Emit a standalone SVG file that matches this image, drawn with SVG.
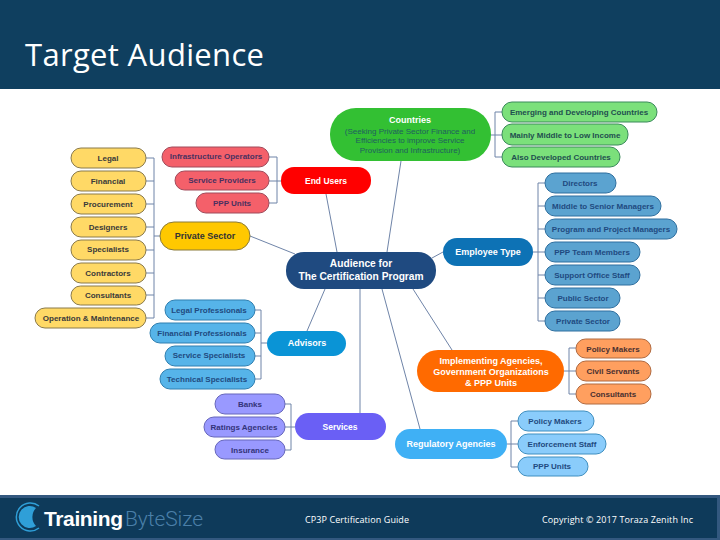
<svg xmlns="http://www.w3.org/2000/svg" width="720" height="540" viewBox="0 0 720 540">
<style>
text{font-family:"Liberation Sans",Arial,sans-serif;text-anchor:middle;font-weight:bold}
.n text{font-size:8px}
.n rect{stroke-width:1}
.y rect{fill:#ffd966;stroke:#8a7a4a}.y text{fill:#3a3a3a}
.r rect{fill:#f4606a;stroke:#a04a5a}.r text{fill:#4a3060}
.g rect{fill:#7be07b;stroke:#3a8a5a}.g text{fill:#1f4f4f}
.b rect{fill:#5ba3d0;stroke:#2f6f9f}.b text{fill:#1f4a80}
.a rect{fill:#56b4e9;stroke:#2f7fb0}.a text{fill:#1f4a80}
.p rect{fill:#9999ff;stroke:#6666bb}.p text{fill:#33337a}
.o rect{fill:#ff9f5f;stroke:#b06a40}.o text{fill:#4a3030}
.l rect{fill:#8accfb;stroke:#3f8fc0}.l text{fill:#1f4a80}
.m text{font-size:9px;fill:#fff}
.c path{fill:none;stroke:#6f84a8;stroke-width:1}
.f{font-family:"Open Sans",sans-serif;font-weight:normal;font-size:9px;fill:#fff}
</style>
<rect width="720" height="540" fill="#fff"/>
<g id="header"><rect width="720" height="89" fill="#0f3f5f"/>
<text x="25" y="66" textLength="239" style="font-family:'Open Sans',sans-serif;font-weight:normal;font-size:31px;text-anchor:start" fill="#fff">Target Audience</text></g>
<g id="footer"><rect y="495" width="720" height="45" fill="#0e3a5a"/><rect y="495" width="720" height="3" fill="#33587f"/><rect y="538" width="720" height="2" fill="#33587f"/><rect x="717" y="495" width="3" height="45" fill="#33587f"/>
<path d="M39 506A14 14 0 1 0 39 528" fill="none" stroke="#2f9fd8" stroke-width="1.500"/>
<path d="M36 508A11 11 0 1 0 36 526A13 13 0 0 1 36 508Z" fill="#2f9fd8"/>
<text x="44" y="526" textLength="79" style="font-size:21px;text-anchor:start" fill="#fff">Training</text>
<text x="125" y="526" textLength="78" style="font-size:21px;font-weight:300;text-anchor:start;font-family:Roboto,sans-serif" fill="#4a7fa8">ByteSize</text>
<text x="357" y="523" textLength="104" class="f">CP3P Certification Guide</text>
<text x="617.500" y="523" textLength="151" class="f">Copyright © 2017 Toraza Zenith Inc</text></g>
<g id="connectors" class="c">
<path d="M326 194L337 252M250 236L295 254M401 161L387 252M443 252L432 258M325 289L307 331M360 289V413M413 289L452 350M382 289L420 429"/>
<path d="M146 158H154M146 181H154M146 204H154M146 227H154M146 250H154M146 273H154M146 295H154M146 318H154M154 158V318M154 236H160"/>
<path d="M269 157H277M269 181H277M269 203H277M277 157V203M277 181H281"/>
<path d="M491 135H502M495 112H502M495 157H502M495 112V157"/>
<path d="M533 252H538M538 183H545M538 206H545M538 229H545M538 252H545M538 275H545M538 298H545M538 321H545M538 183V321"/>
<path d="M255 310H261M255 333H261M255 356H261M255 379H261M261 310V379M261 343H267"/>
<path d="M285 404H291M285 427H295M285 450H291M291 404V450"/>
<path d="M564 371H576M569 348H576M569 394H576M569 348V394"/>
<path d="M507 444H518M511 421H518M511 467H518M511 421V467"/>
</g>
<g id="center" class="n m"><rect x="286" y="252" width="150" height="37" rx="18" fill="#1f4a80"/><text x="361" y="267" style="font-size:10.200px">Audience for</text><text x="361" y="280" style="font-size:10.200px">The Certification Program</text></g>
<g id="countries" class="n m"><rect x="330" y="108" width="161" height="53" rx="26" fill="#33c033"/><text x="410" y="123">Countries</text><text x="410" y="134" style="font-size:8px;font-weight:normal;fill:#1f5f5f">(Seeking Private Sector Finance and</text><text x="410" y="143" style="font-size:8px;font-weight:normal;fill:#1f5f5f">Efficiencies to improve Service</text><text x="410" y="153" style="font-size:8px;font-weight:normal;fill:#1f5f5f">Provision and Infrastructure)</text></g>
<g id="end-users" class="n m"><rect x="281" y="167" width="90" height="27" rx="13" fill="#ff0000"/><text x="326" y="184" style="font-size:8.500px">End Users</text></g>
<g id="private-sector" class="n"><rect x="160" y="222" width="90" height="28" rx="14" fill="#ffc800" stroke="#8a7a3a"/><text x="205" y="239" style="font-size:9px" fill="#333">Private Sector</text></g>
<g id="employee-type" class="n m"><rect x="443" y="238" width="90" height="28" rx="14" fill="#0d72b5"/><text x="488" y="255">Employee Type</text></g>
<g id="advisors" class="n m"><rect x="267" y="331" width="79" height="25" rx="12.500" fill="#0a94d6"/><text x="307" y="346">Advisors</text></g>
<g id="services" class="n m"><rect x="295" y="413" width="91" height="27" rx="13.500" fill="#6a5ff5"/><text x="340" y="430" style="font-size:8.500px">Services</text></g>
<g id="implementing" class="n m"><rect x="417" y="350" width="147" height="42" rx="21" fill="#ff6a00"/><text x="491" y="364">Implementing Agencies,</text><text x="491" y="375">Government Organizations</text><text x="491" y="386">&amp; PPP Units</text></g>
<g id="regulatory" class="n m"><rect x="395" y="429" width="112" height="30" rx="15" fill="#3fb0f5"/><text x="451" y="447">Regulatory Agencies</text></g>

<g id="legal" class="n y"><rect x="71" y="148" width="75" height="20" rx="10"/><text x="108" y="161">Legal</text></g>
<g id="financial" class="n y"><rect x="71" y="171" width="75" height="20" rx="10"/><text x="108" y="184">Financial</text></g>
<g id="procurement" class="n y"><rect x="71" y="194" width="75" height="20" rx="10"/><text x="108" y="207">Procurement</text></g>
<g id="designers" class="n y"><rect x="71" y="217" width="75" height="20" rx="10"/><text x="108" y="230">Designers</text></g>
<g id="specialists" class="n y"><rect x="71" y="240" width="75" height="20" rx="10"/><text x="108" y="252">Specialists</text></g>
<g id="contractors" class="n y"><rect x="71" y="263" width="75" height="20" rx="10"/><text x="108" y="276">Contractors</text></g>
<g id="consultants-y" class="n y"><rect x="71" y="286" width="75" height="19" rx="9.500"/><text x="108" y="298">Consultants</text></g>
<g id="om" class="n y"><rect x="35" y="308" width="111" height="20" rx="10"/><text x="91" y="321">Operation &amp; Maintenance</text></g>

<g id="infra" class="n r"><rect x="162" y="147" width="107" height="20" rx="10"/><text x="216" y="159">Infrastructure Operators</text></g>
<g id="service-prov" class="n r"><rect x="175" y="171" width="94" height="19" rx="9.500"/><text x="222" y="183">Service Providers</text></g>
<g id="ppp-r" class="n r"><rect x="196" y="193" width="73" height="20" rx="10"/><text x="232" y="206">PPP Units</text></g>

<g id="emerging" class="n g"><rect x="502" y="102" width="155" height="20" rx="10"/><text x="579" y="115">Emerging and Developing Countries</text></g>
<g id="mainly" class="n g"><rect x="502" y="124" width="126" height="21" rx="10"/><text x="565" y="138">Mainly Middle to Low Income</text></g>
<g id="also" class="n g"><rect x="502" y="147" width="118" height="20" rx="10"/><text x="561" y="160">Also Developed Countries</text></g>

<g id="directors" class="n b"><rect x="545" y="173" width="71" height="20" rx="10"/><text x="580" y="186">Directors</text></g>
<g id="middle" class="n b"><rect x="545" y="196" width="116" height="20" rx="10"/><text x="603" y="209">Middle to Senior Managers</text></g>
<g id="program" class="n b"><rect x="545" y="219" width="132" height="20" rx="10"/><text x="611" y="232">Program and Project Managers</text></g>
<g id="team" class="n b"><rect x="545" y="242" width="95" height="20" rx="10"/><text x="592" y="255">PPP Team Members</text></g>
<g id="support" class="n b"><rect x="545" y="265" width="95" height="20" rx="10"/><text x="592" y="278">Support Office Staff</text></g>
<g id="public" class="n b"><rect x="545" y="288" width="75" height="20" rx="10"/><text x="583" y="301">Public Sector</text></g>
<g id="private-b" class="n b"><rect x="545" y="311" width="75" height="20" rx="10"/><text x="583" y="324">Private Sector</text></g>

<g id="legal-pro" class="n a"><rect x="165" y="300" width="90" height="20" rx="10"/><text x="209" y="313">Legal Professionals</text></g>
<g id="fin-pro" class="n a"><rect x="150" y="323" width="105" height="20" rx="10"/><text x="202" y="336">Financial Professionals</text></g>
<g id="svc-spec" class="n a"><rect x="165" y="346" width="90" height="20" rx="10"/><text x="209" y="358">Service Specialists</text></g>
<g id="tech-spec" class="n a"><rect x="160" y="369" width="95" height="20" rx="10"/><text x="207" y="382">Technical Specialists</text></g>

<g id="banks" class="n p"><rect x="215" y="394" width="70" height="20" rx="10"/><text x="250" y="407">Banks</text></g>
<g id="ratings" class="n p"><rect x="204" y="417" width="81" height="20" rx="10"/><text x="244" y="430">Ratings Agencies</text></g>
<g id="insurance" class="n p"><rect x="215" y="440" width="70" height="19" rx="9.500"/><text x="250" y="453">Insurance</text></g>

<g id="policy-o" class="n o"><rect x="576" y="339" width="75" height="19" rx="9.500"/><text x="613" y="352">Policy Makers</text></g>
<g id="civil" class="n o"><rect x="576" y="361" width="75" height="20" rx="10"/><text x="613" y="374">Civil Servants</text></g>
<g id="consultants-o" class="n o"><rect x="576" y="384" width="75" height="20" rx="10"/><text x="613" y="397">Consultants</text></g>

<g id="policy-l" class="n l"><rect x="518" y="411" width="76" height="20" rx="10"/><text x="555" y="424">Policy Makers</text></g>
<g id="enforcement" class="n l"><rect x="518" y="434" width="88" height="20" rx="10"/><text x="562" y="447">Enforcement Staff</text></g>
<g id="ppp-l" class="n l"><rect x="518" y="457" width="70" height="19" rx="9.500"/><text x="552" y="469">PPP Units</text></g>
</svg>
